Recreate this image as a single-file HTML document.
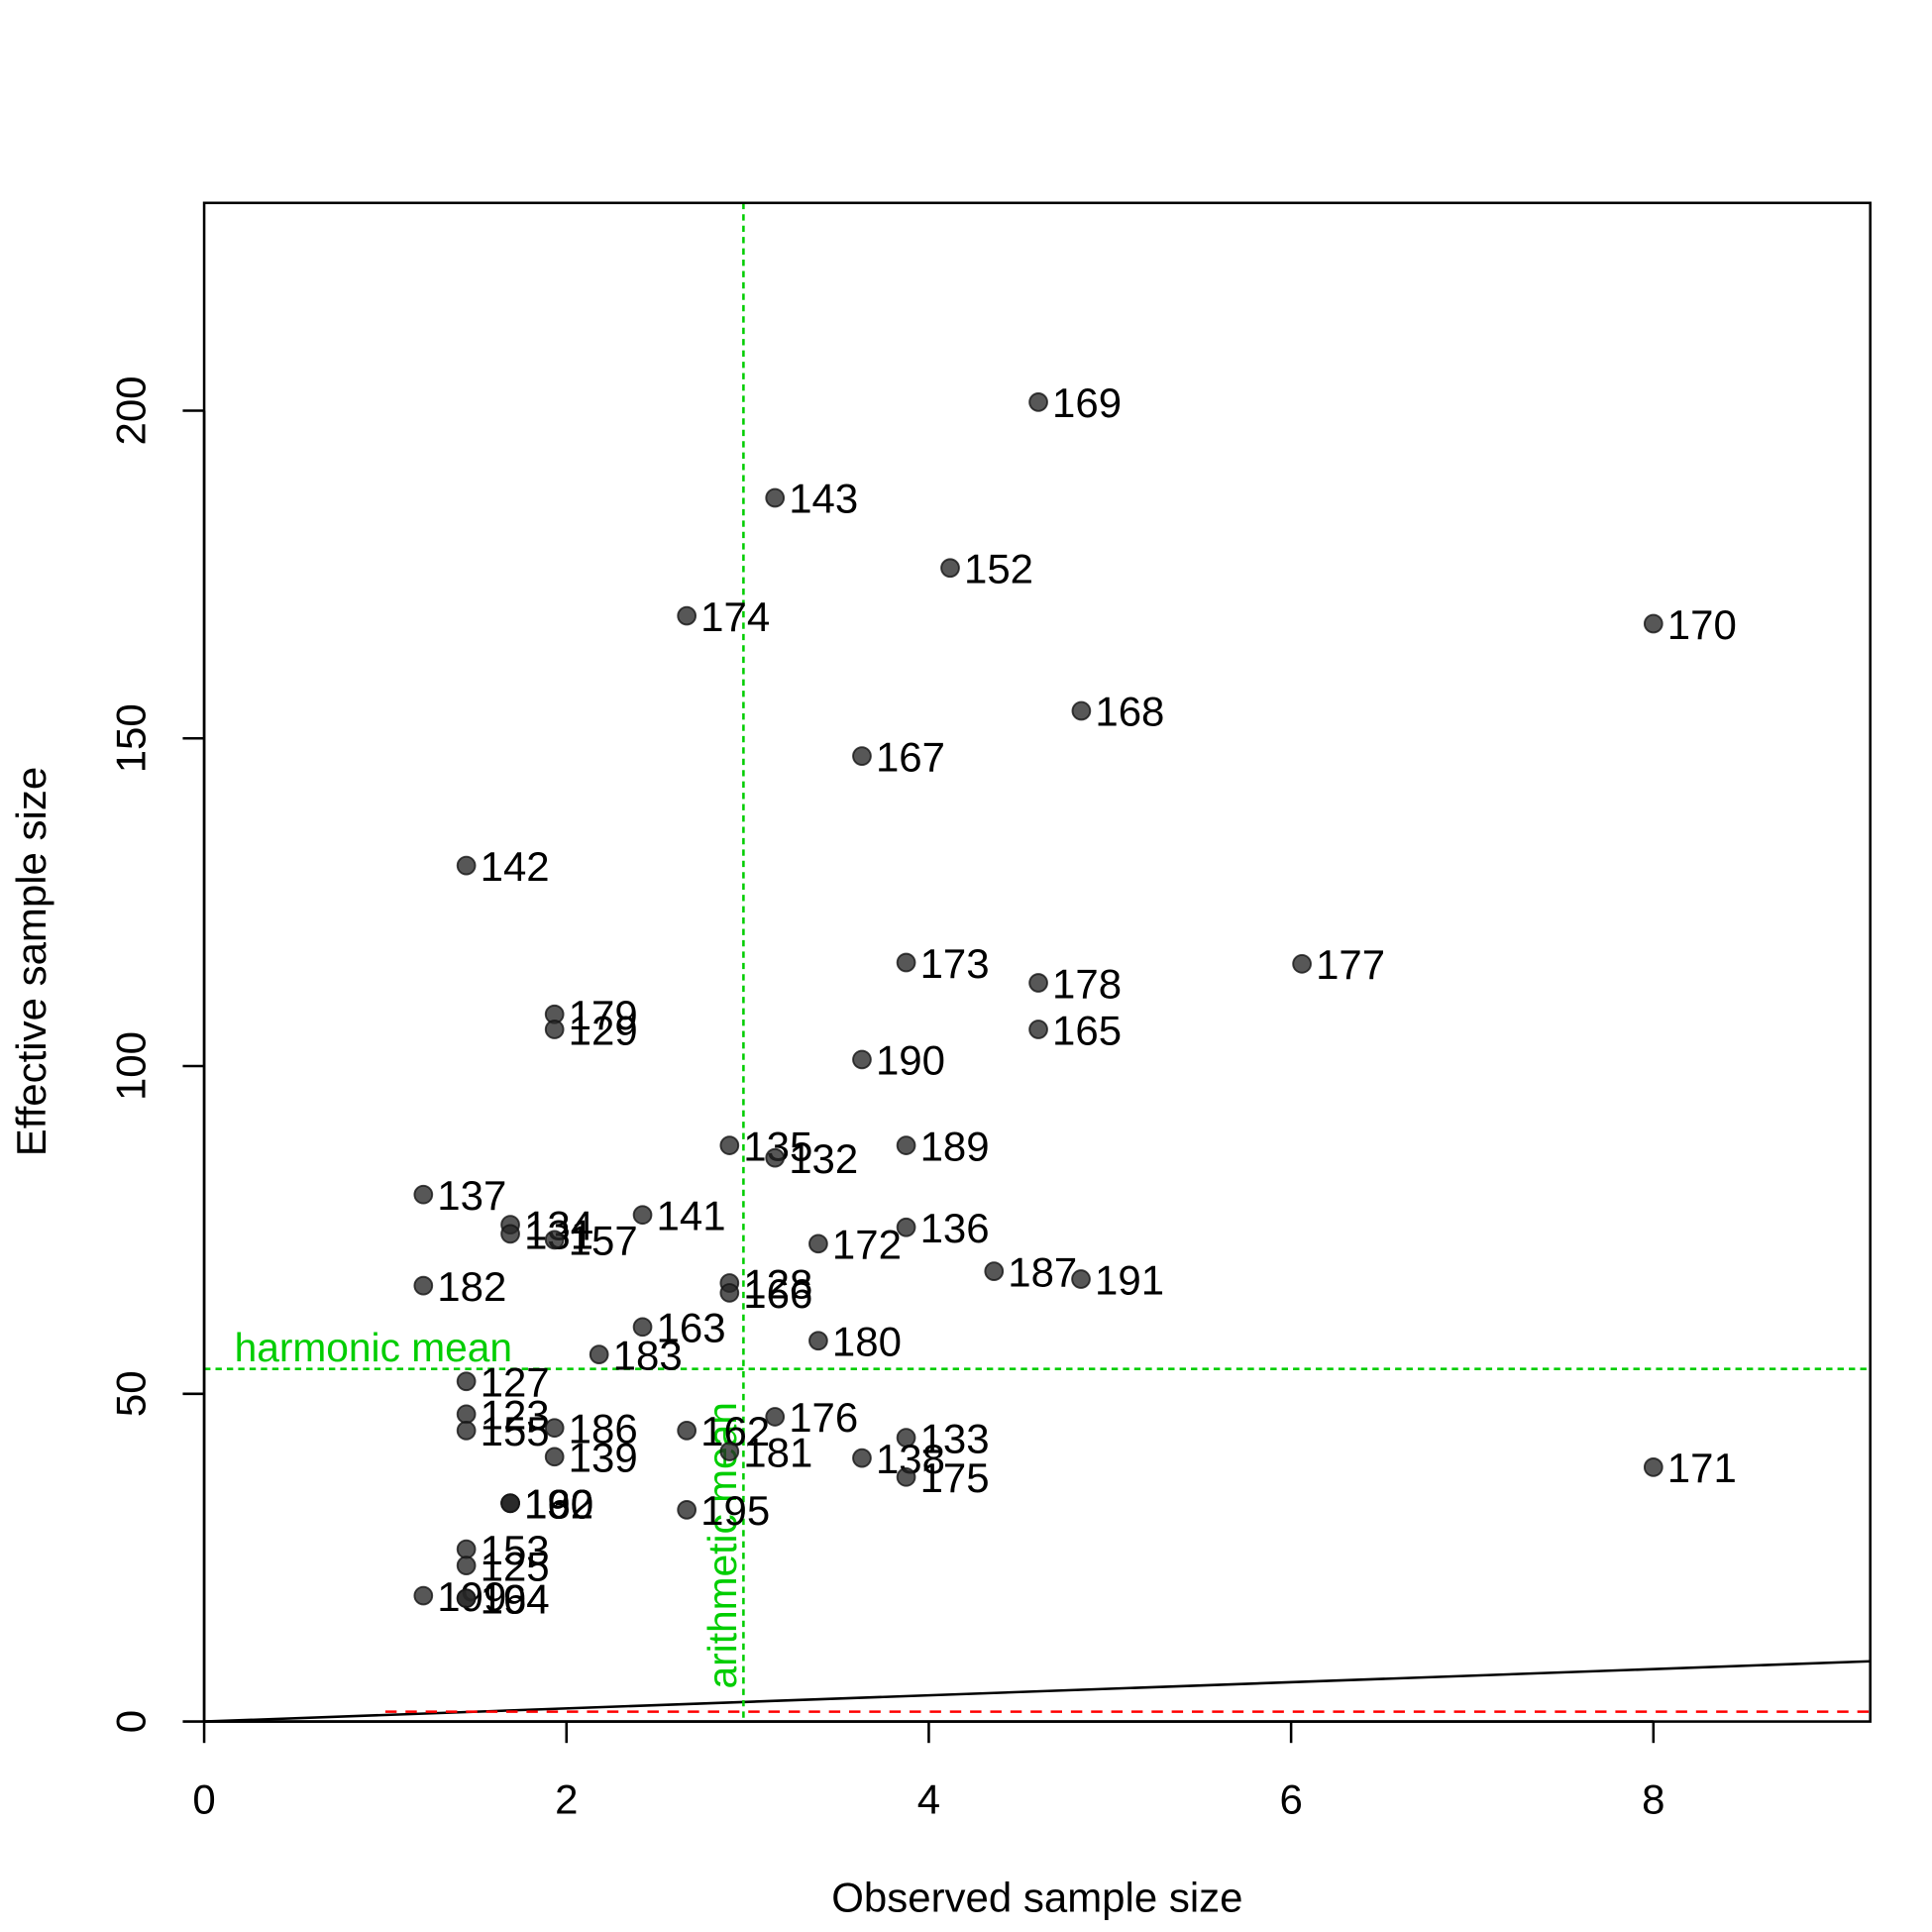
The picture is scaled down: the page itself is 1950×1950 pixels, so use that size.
<!DOCTYPE html>
<html><head><meta charset="utf-8"><style>
html,body{margin:0;padding:0;background:#fff}
svg{display:block}
text{font-family:"Liberation Sans",Arial,sans-serif}
</style></head><body>
<svg id="chart" width="1950" height="1950" viewBox="0 0 1533 1533" xmlns="http://www.w3.org/2000/svg">
<rect x="0" y="0" width="1533" height="1533" fill="#fff"/>
<g id="lines"></g>
<g id="pts"></g>
<g id="axes"></g>
</svg>
<script>
const labels = ["169","143","152","174","170","168","167","142","173","177","178","179","129","165","190","135","132","189","137","141","134","131","157","136","172","187","191","182","128","166","163","180","183","127","123","155","186","139","162","176","181","133","138","175","171","130","160","192","195","153","125","199","194","164"];
const xs = [4.605,3.151,4.118,2.664,8.0,4.842,3.631,1.447,3.875,6.06,4.605,1.934,1.934,4.605,3.631,2.9,3.151,3.875,1.21,2.42,1.69,1.69,1.934,3.875,3.39,4.36,4.84,1.21,2.9,2.9,2.42,3.39,2.18,1.447,1.447,1.447,1.934,1.934,2.664,3.151,2.9,3.875,3.631,3.875,8.0,1.69,1.69,1.69,2.664,1.447,1.447,1.21,1.447,1.447];
const ys = [201.3,186.7,176,168.7,167.5,154.2,147.3,130.6,115.8,115.6,112.7,107.9,105.6,105.6,101,87.9,86,87.9,80.4,77.3,75.8,74.4,73.5,75.4,72.9,68.7,67.5,66.5,66.9,65.4,60.2,58.1,56,51.9,46.9,44.4,44.8,40.4,44.4,46.5,41.2,43.3,40.2,37.3,38.8,33.3,33.3,33.3,32.3,26.3,23.8,19.2,18.8,18.8];
const xTicks = [0,2,4,6,8];
const yTicks = [0,50,100,150,200];
const harmonicMean = 53.8;
const arithmeticMean = 2.977;
const redLevel = 1.5;

const L=162,R=1484,T=161,B=1366, XMIN=0,XMAX=9.197,YMIN=0,YMAX=231.7;
const sx=v=>L+(v-XMIN)/(XMAX-XMIN)*(R-L);
const sy=v=>B-(v-YMIN)/(YMAX-YMIN)*(B-T);
const NS="http://www.w3.org/2000/svg";
function mk(tag,attrs,parent){const e=document.createElementNS(NS,tag);for(const k in attrs)e.setAttribute(k,attrs[k]);parent.appendChild(e);return e;}
const gl=document.getElementById('lines'),gp=document.getElementById('pts'),ga=document.getElementById('axes');

let e=mk('line',{x1:sx(0),y1:sy(0),x2:sx(XMAX),y2:sy(XMAX),stroke:'#000','stroke-width':2},gl);


e=mk('line',{x1:sx(1.0),y1:sy(redLevel),x2:sx(XMAX),y2:sy(redLevel),stroke:'#f00','stroke-width':2,'stroke-dasharray':'9,7'},gl);


e=mk('line',{x1:L,y1:sy(harmonicMean),x2:R,y2:sy(harmonicMean),stroke:'#00cd00','stroke-width':2,'stroke-dasharray':'5,4'},gl);


e=mk('line',{x1:sx(arithmeticMean),y1:T,x2:sx(arithmeticMean),y2:B,stroke:'#00cd00','stroke-width':2,'stroke-dasharray':'5,4'},gl);


e=mk('text',{x:186,y:sy(harmonicMean)-6,'font-size':32,fill:'#00cd00'},gl);
e.textContent='harmonic mean';


e=mk('text',{x:0,y:0,'font-size':32,fill:'#00cd00',transform:`translate(${sx(arithmeticMean)-6},1340) rotate(-90)`},gl);
e.textContent='arithmetic mean';



for(let i=0;i<labels.length;i++){
  const cx=sx(xs[i]),cy=sy(ys[i]);
  const c=mk('circle',{cx:cx,cy:cy,r:7,fill:'rgba(40,40,40,0.78)',stroke:'rgba(20,20,20,0.8)','stroke-width':1.5},gp);
  
  
  const t=mk('text',{x:cx+11,y:cy+12,'font-size':33,fill:'#000'},gp);
  t.textContent=labels[i];
  
  
}

e=mk('rect',{x:L,y:T,width:R-L,height:B-T,fill:'none',stroke:'#000','stroke-width':2},ga);


e=mk('line',{x1:sx(xTicks[0]),y1:B,x2:sx(xTicks[xTicks.length-1]),y2:B,stroke:'#000','stroke-width':2},ga);


xTicks.forEach(v=>{
  const tk=mk('line',{x1:sx(v),y1:B,x2:sx(v),y2:B+17,stroke:'#000','stroke-width':2},ga);
  
  
  const t=mk('text',{x:sx(v),y:1439,'font-size':33,'text-anchor':'middle'},ga);
  t.textContent=v;
  
  
});
e=mk('line',{x1:L,y1:sy(yTicks[0]),x2:L,y2:sy(yTicks[yTicks.length-1]),stroke:'#000','stroke-width':2},ga);


yTicks.forEach(v=>{
  const tk=mk('line',{x1:L-17,y1:sy(v),x2:L,y2:sy(v),stroke:'#000','stroke-width':2},ga);
  
  
  const t=mk('text',{x:0,y:0,'font-size':33,'text-anchor':'middle',transform:`translate(115,${sy(v)}) rotate(-90)`},ga);
  t.textContent=v;
  
  
});
e=mk('text',{x:823,y:1517,'font-size':33,'text-anchor':'middle'},ga);
e.textContent='Observed sample size';


e=mk('text',{x:0,y:0,'font-size':33,'text-anchor':'middle',transform:'translate(36,763) rotate(-90)'},ga);
e.textContent='Effective sample size';


</script>
</body></html>
